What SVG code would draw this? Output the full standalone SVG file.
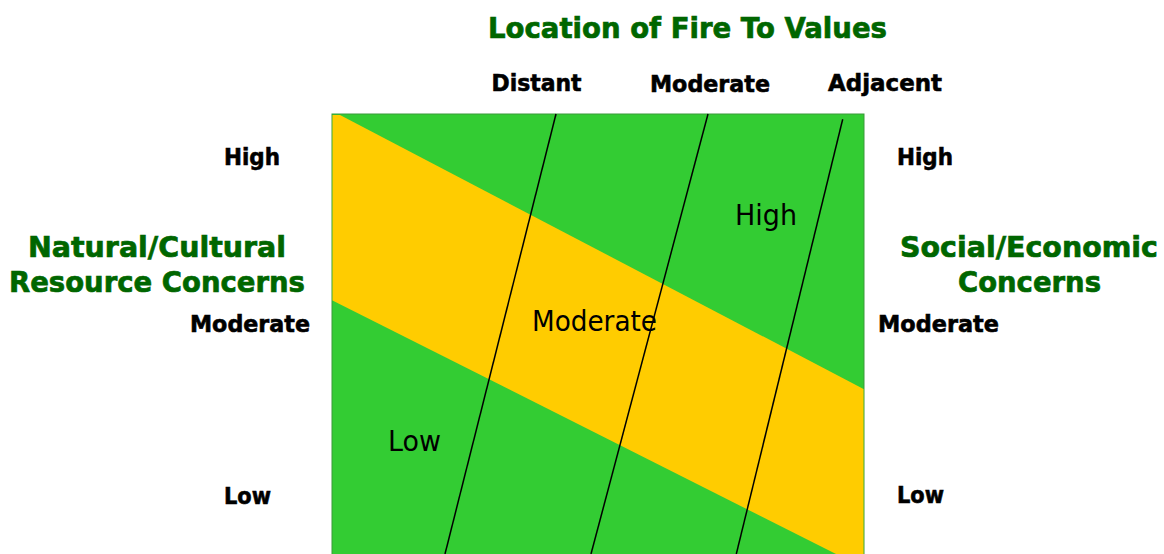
<svg xmlns="http://www.w3.org/2000/svg" width="1164" height="554" viewBox="0 0 1164 554">
<style>
.title{font-family:"DejaVu Sans","Liberation Sans",sans-serif;font-weight:bold;font-size:29px;fill:#006600;stroke:#006600;stroke-width:0.7}
.lvl{font-family:"Comic Sans MS","DejaVu Sans","Liberation Sans",sans-serif;font-weight:bold;font-size:23px;fill:#000;stroke:#000;stroke-width:0.6}
.zone{font-family:"DejaVu Sans","Liberation Sans",sans-serif;font-size:29px;fill:#000}
.div{stroke:#000;stroke-width:1.5;fill:none}
</style>
<rect width="1164" height="554" fill="#fff"/>
<g id="chart">
<rect x="332" y="114" width="532" height="460" fill="#33CC33" stroke="#3A9A3A" stroke-width="1"/>
<polygon points="332.5,115 340,115 863.5,389 863.5,554 836,554 332.5,300.5" fill="#FFCC00"/>
</g>
<g id="connectors">
<line class="div" x1="556" y1="114" x2="445" y2="554"/>
<line class="div" x1="708" y1="114" x2="591" y2="554"/>
<line class="div" x1="842.7" y1="119.3" x2="736.3" y2="554"/>
</g>
<g id="title-top"><text class="title" x="488" y="38" textLength="399" lengthAdjust="spacingAndGlyphs">Location of Fire To Values</text></g>
<g id="top-distant"><text class="lvl" x="491.5" y="91" textLength="90" lengthAdjust="spacingAndGlyphs">Distant</text></g>
<g id="top-moderate"><text class="lvl" x="650" y="92" textLength="120" lengthAdjust="spacingAndGlyphs">Moderate</text></g>
<g id="top-adjacent"><text class="lvl" x="828" y="91" textLength="114" lengthAdjust="spacingAndGlyphs">Adjacent</text></g>
<g id="title-left">
<text class="title" x="28" y="256.5" textLength="258" lengthAdjust="spacingAndGlyphs">Natural/Cultural</text>
<text class="title" x="9" y="291.5" textLength="296" lengthAdjust="spacingAndGlyphs">Resource Concerns</text>
</g>
<g id="title-right">
<text class="title" x="900" y="256.5" textLength="258" lengthAdjust="spacingAndGlyphs">Social/Economic</text>
<text class="title" x="958" y="291.5" textLength="143" lengthAdjust="spacingAndGlyphs">Concerns</text>
</g>
<g id="left-high"><text class="lvl" x="224" y="165" textLength="56" lengthAdjust="spacingAndGlyphs">High</text></g>
<g id="left-moderate"><text class="lvl" x="190" y="332" textLength="120" lengthAdjust="spacingAndGlyphs">Moderate</text></g>
<g id="left-low"><text class="lvl" x="224" y="504" textLength="47" lengthAdjust="spacingAndGlyphs">Low</text></g>
<g id="right-high"><text class="lvl" x="897" y="165" textLength="56" lengthAdjust="spacingAndGlyphs">High</text></g>
<g id="right-moderate"><text class="lvl" x="878" y="332" textLength="121" lengthAdjust="spacingAndGlyphs">Moderate</text></g>
<g id="right-low"><text class="lvl" x="897" y="503" textLength="47" lengthAdjust="spacingAndGlyphs">Low</text></g>
<g id="zone-high"><text class="zone" x="735" y="225" textLength="62" lengthAdjust="spacingAndGlyphs">High</text></g>
<g id="zone-moderate"><text class="zone" x="532" y="331" textLength="125" lengthAdjust="spacingAndGlyphs">Moderate</text></g>
<g id="zone-low"><text class="zone" x="388" y="451" textLength="53" lengthAdjust="spacingAndGlyphs">Low</text></g>
</svg>
